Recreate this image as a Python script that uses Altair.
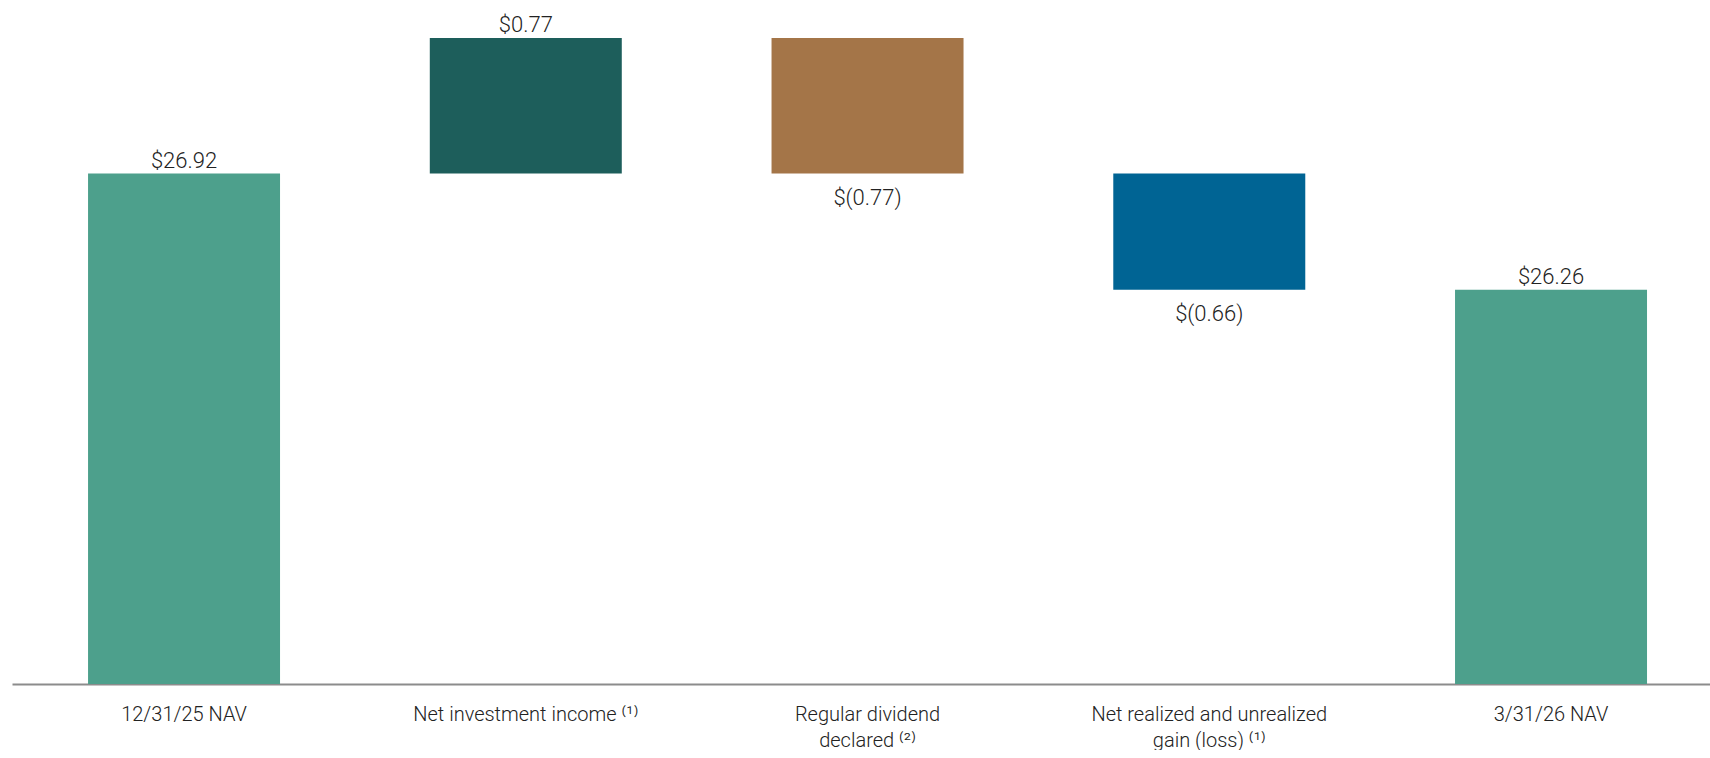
import altair as alt
import pandas as pd

categories = [
    "12/31/25 NAV",
    "Net investment income ⁽¹⁾",
    "Regular dividend\ndeclared ⁽²⁾",
    "Net realized and unrealized\ngain (loss) ⁽¹⁾",
    "3/31/26 NAV",
]
amounts = [26.92, 0.77, -0.77, -0.66, 26.26]
kinds = ["total", "delta", "delta", "delta", "total"]
value_labels = ["$26.92", "$0.77", "$(0.77)", "$(0.66)", "$26.26"]
bar_colors = ["#4da08c", "#1d5e5b", "#a47548", "#006494", "#4da08c"]

AXIS_MIN = 24.02
AXIS_MAX = 27.906

rows = []
running = 0.0
for cat, amt, kind, lab, col in zip(categories, amounts, kinds, value_labels, bar_colors):
    if kind == "total":
        start, end = AXIS_MIN, amt
        running = amt
        pos, ly = "above", amt
    else:
        start = running
        end = running + amt
        running = end
        if amt >= 0:
            pos, ly = "above", end
        else:
            pos, ly = "below", end
    rows.append({"cat": cat, "start": start, "end": end, "label": lab,
                 "color": col, "pos": pos, "ly": ly})
df = pd.DataFrame(rows)

FONT = "Roboto"

xenc = alt.X(
    "cat:N",
    sort=categories,
    title=None,
    scale=alt.Scale(paddingInner=0.4382, paddingOuter=0.2034, align=0.547),
    axis=alt.Axis(
        labelAngle=0,
        ticks=False,
        tickSize=0,
        domain=True,
        domainColor="#8c8c8c",
        domainWidth=2,
        labelFont=FONT,
        labelFontWeight=300,
        labelFontSize=20,
        labelColor="#222222",
        labelPadding=20,
        labelLimit=0,
        labelLineHeight=26,
        labelBaseline="top",
        labelExpr="split(datum.label, '\\n')",
        grid=False,
    ),
)
yscale = alt.Scale(domain=[AXIS_MIN, AXIS_MAX], nice=False, zero=False)

base = alt.Chart(df)

bars = base.mark_bar().encode(
    x=xenc,
    y=alt.Y("start:Q", scale=yscale, axis=None),
    y2="end:Q",
    color=alt.Color("color:N", scale=None),
)

above = base.transform_filter(alt.datum.pos == "above").mark_text(
    baseline="bottom", dy=-1, font=FONT, fontWeight=300, fontSize=22, color="#222222"
).encode(x=xenc, y=alt.Y("ly:Q", scale=yscale, axis=None), text="label:N")

below = base.transform_filter(alt.datum.pos == "below").mark_text(
    baseline="top", dy=14, font=FONT, fontWeight=300, fontSize=22, color="#222222"
).encode(x=xenc, y=alt.Y("ly:Q", scale=yscale, axis=None), text="label:N")

chart = (
    alt.layer(bars, above, below)
    .properties(width=1698, height=684, padding={"left": 12, "top": 0, "right": 0, "bottom": 0})
    .configure(background="white")
    .configure_view(stroke=None, strokeWidth=0)
)

chart.save("out.html", embed_options={"renderer": "svg", "actions": False})
